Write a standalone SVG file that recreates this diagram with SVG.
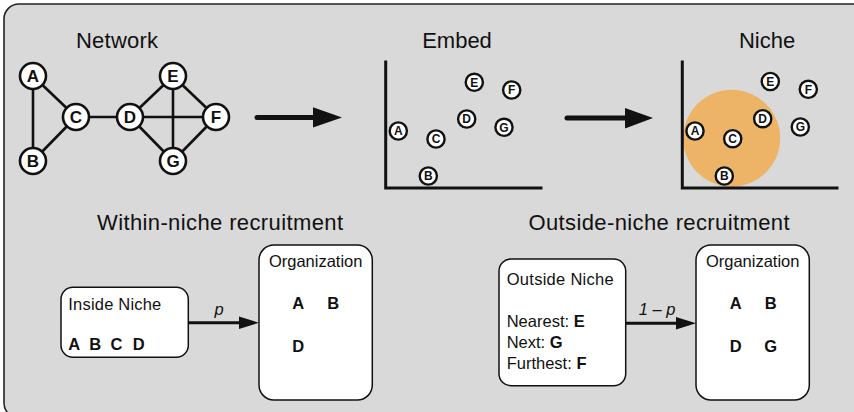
<svg xmlns="http://www.w3.org/2000/svg" width="854" height="412" viewBox="0 0 854 412">
<defs>
<style>
text{font-family:"Liberation Sans",Arial,sans-serif;fill:#111}
.title{font-size:22px}
.lbl{font-size:16.5px}
.b{font-weight:bold}
.bl{font-size:16.5px;font-weight:bold}
.big circle{fill:#fff;stroke:#111;stroke-width:2.6}
.big text{font-size:17px;font-weight:bold;text-anchor:middle}
.sm circle{fill:#fff;stroke:#111;stroke-width:2.4}
.sm text{font-size:12px;font-weight:bold;text-anchor:middle}
.edge{stroke:#111;stroke-width:2.6}
.axis{stroke:#111;stroke-width:3;fill:none}
.box{fill:#fff;stroke:#111;stroke-width:1.5}
.bar{stroke:#111;stroke-width:5;stroke-linecap:round}
.thin{stroke:#111;stroke-width:3}
</style>
</defs>
<rect x="4" y="4" width="880" height="414" rx="15" fill="#d9d9d9" stroke="#222" stroke-width="1.6"/>

<text class="title" x="117" y="48" text-anchor="middle" textLength="82" lengthAdjust="spacing">Network</text>
<text class="title" x="457" y="48" text-anchor="middle">Embed</text>
<text class="title" x="767" y="48" text-anchor="middle">Niche</text>

<g id="connectors">
<line class="edge" x1="33" y1="76" x2="33" y2="161"/>
<line class="edge" x1="33" y1="76" x2="76" y2="117"/>
<line class="edge" x1="33" y1="161" x2="76" y2="117"/>
<line class="edge" x1="76" y1="117" x2="130" y2="117"/>
<line class="edge" x1="130" y1="117" x2="173" y2="76"/>
<line class="edge" x1="130" y1="117" x2="216" y2="117"/>
<line class="edge" x1="130" y1="117" x2="173" y2="161"/>
<line class="edge" x1="173" y1="76" x2="216" y2="117"/>
<line class="edge" x1="173" y1="76" x2="173" y2="161"/>
<line class="edge" x1="216" y1="117" x2="173" y2="161"/>
<line class="bar" x1="257" y1="117.5" x2="316" y2="117.5"/>
<polygon points="313,107.3 342,117.5 313,127.5" fill="#111"/>
<line class="bar" x1="567" y1="118" x2="628" y2="118"/>
<polygon points="625,108 653,118 625,128.5" fill="#111"/>
<line class="thin" x1="188" y1="322.7" x2="242" y2="322.7"/>
<polygon points="239,316.5 259,322.7 239,329" fill="#111"/>
<line class="thin" x1="626" y1="323.3" x2="679" y2="323.3"/>
<polygon points="676,317 696,323.3 676,329.6" fill="#111"/>
</g>

<g id="network" class="big">
<g id="nA"><circle cx="33" cy="76" r="13"/><text x="33" y="82">A</text></g>
<g id="nB"><circle cx="33" cy="161" r="13"/><text x="33" y="167">B</text></g>
<g id="nC"><circle cx="76" cy="117" r="13"/><text x="76" y="123">C</text></g>
<g id="nD"><circle cx="130" cy="117" r="13"/><text x="130" y="123">D</text></g>
<g id="nE"><circle cx="173" cy="76" r="13"/><text x="173" y="82">E</text></g>
<g id="nF"><circle cx="216" cy="117" r="13"/><text x="216" y="123">F</text></g>
<g id="nG"><circle cx="173" cy="161" r="13"/><text x="173" y="167">G</text></g>
</g>

<g id="embed">
<polyline class="axis" points="385.7,60.5 385.7,188 542.5,188"/>
<g class="sm">
<g id="eE"><circle cx="474.3" cy="82.3" r="8.6"/><text x="474.3" y="86.6">E</text></g>
<g id="eF"><circle cx="511.7" cy="90" r="8.6"/><text x="511.7" y="94.3">F</text></g>
<g id="eD"><circle cx="466.7" cy="119" r="8.6"/><text x="466.7" y="123.3">D</text></g>
<g id="eG"><circle cx="504" cy="127.3" r="8.6"/><text x="504" y="131.6">G</text></g>
<g id="eA"><circle cx="398.3" cy="131" r="8.6"/><text x="398.3" y="135.3">A</text></g>
<g id="eC"><circle cx="436" cy="139" r="8.6"/><text x="436" y="143.3">C</text></g>
<g id="eB"><circle cx="428.3" cy="176" r="8.6"/><text x="428.3" y="180.3">B</text></g>
</g>
</g>

<g id="niche">
<circle cx="731.7" cy="138.3" r="48.5" fill="#edb467"/>
<polyline class="axis" points="682.3,60.5 682.3,188 838.5,188"/>
<g class="sm">
<g id="kE"><circle cx="770.3" cy="81.5" r="8.6"/><text x="770.3" y="85.8">E</text></g>
<g id="kF"><circle cx="808.3" cy="89.3" r="8.6"/><text x="808.3" y="93.6">F</text></g>
<g id="kD"><circle cx="762.7" cy="118.7" r="8.6"/><text x="762.7" y="123">D</text></g>
<g id="kG"><circle cx="800.3" cy="127" r="8.6"/><text x="800.3" y="131.3">G</text></g>
<g id="kA"><circle cx="695" cy="131" r="8.6"/><text x="695" y="135.3">A</text></g>
<g id="kC"><circle cx="732.7" cy="138.7" r="8.6"/><text x="732.7" y="143">C</text></g>
<g id="kB"><circle cx="724.3" cy="176" r="8.6"/><text x="724.3" y="180.3">B</text></g>
</g>
</g>

<text class="title" x="220" y="229.5" text-anchor="middle" textLength="246" lengthAdjust="spacing">Within-niche recruitment</text>
<text class="title" x="659" y="229.5" text-anchor="middle" textLength="261" lengthAdjust="spacing">Outside-niche recruitment</text>

<g id="insideNiche">
<rect class="box" x="61" y="287.3" width="127.3" height="70" rx="12"/>
<text class="lbl" x="68.3" y="310" textLength="93" lengthAdjust="spacing">Inside Niche</text>
<text class="bl" x="68.3" y="350">A</text>
<text class="bl" x="89.3" y="350">B</text>
<text class="bl" x="110.5" y="350">C</text>
<text class="bl" x="132.8" y="350">D</text>
</g>
<text class="lbl" x="219" y="315" font-style="italic" text-anchor="middle">p</text>

<g id="org1">
<rect class="box" x="259" y="245" width="113.3" height="155" rx="15"/>
<text class="lbl" x="315.7" y="267" text-anchor="middle">Organization</text>
<text class="bl" x="298.3" y="308.5" text-anchor="middle">A</text>
<text class="bl" x="333.3" y="308.5" text-anchor="middle">B</text>
<text class="bl" x="298.3" y="351.7" text-anchor="middle">D</text>
</g>

<g id="outsideNiche">
<rect class="box" x="499" y="259" width="126.7" height="126.7" rx="12"/>
<text class="lbl" x="506.7" y="285" textLength="107" lengthAdjust="spacing">Outside Niche</text>
<text class="lbl" x="506.7" y="326.7">Nearest: <tspan class="b">E</tspan></text>
<text class="lbl" x="506.7" y="348.3">Next: <tspan class="b">G</tspan></text>
<text class="lbl" x="506.7" y="369.3">Furthest: <tspan class="b">F</tspan></text>
</g>
<text class="lbl" x="657" y="315" font-style="italic" text-anchor="middle">1 – p</text>

<g id="org2">
<rect class="box" x="696" y="245" width="113.3" height="155" rx="15"/>
<text class="lbl" x="752.7" y="267" text-anchor="middle">Organization</text>
<text class="bl" x="735.7" y="308.5" text-anchor="middle">A</text>
<text class="bl" x="770.7" y="308.5" text-anchor="middle">B</text>
<text class="bl" x="735.7" y="351.7" text-anchor="middle">D</text>
<text class="bl" x="770.7" y="351.7" text-anchor="middle">G</text>
</g>
</svg>
